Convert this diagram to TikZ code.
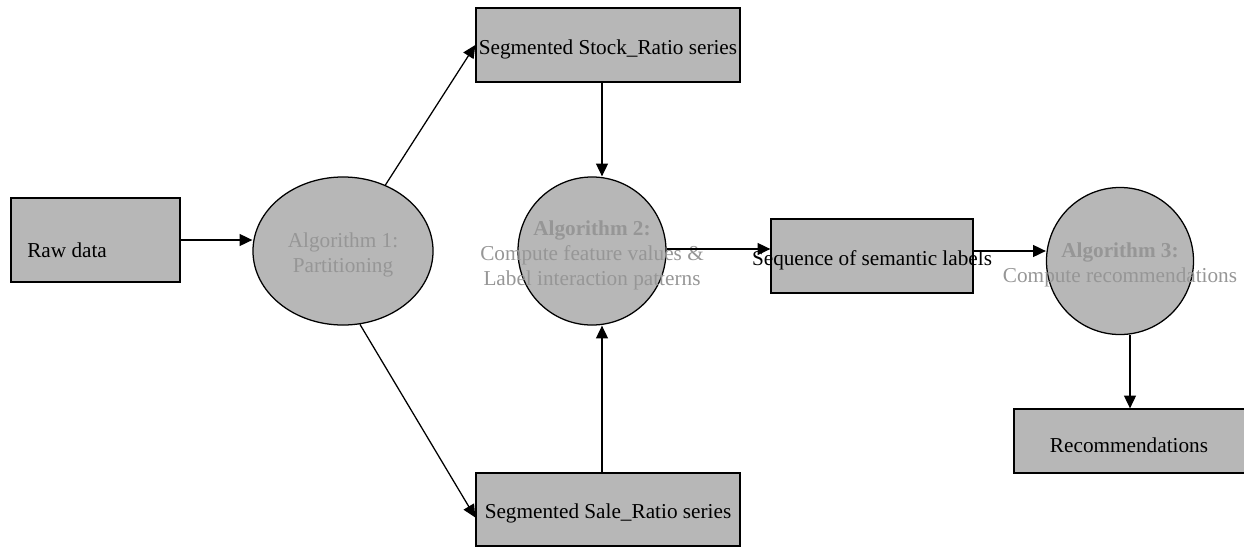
\documentclass[tikz,border=0pt]{standalone}
\usepackage{fontspec}
\setmainfont{Liberation Serif}
\usepackage{tikz}
\usetikzlibrary{arrows.meta,shapes.geometric}
\definecolor{boxgray}{RGB}{183,183,183}
\definecolor{algtext}{RGB}{150,150,150}
\tikzset{
	x=0.025cm,
	y=-0.025cm,
	every node/.style = {
		font=\fontsize{15.1}{17.8}\selectfont
	},
	databox/.style = {
		shape=rectangle,
		draw,
		fill=boxgray,
		line width=0.9pt,
		inner sep=0pt
	},
	algnode/.style = {
		shape=circle,
		draw,
		fill=boxgray,
		line width=0.9pt,
		inner sep=0pt
	},
	boxtext/.style = {
		yshift=-0.1cm,
		align=center
	},
	algname/.style = {
		boxtext,
		text=algtext
	},
	flow/.style = {
		draw,
		line width=0.9pt,
		-{Triangle[length=0.32cm,width=0.3cm]}
	}
}

\begin{document}
\begin{tikzpicture}
	\useasboundingbox[clip] (0,0) rectangle (1244,547);
	\node[databox, minimum width=4.225cm, minimum height=2.1cm,
		label={[boxtext, anchor=west, yshift=-0.15cm]west:{\hspace{0.3cm}Raw data}}] (raw) at (95.5,240) {};
	\node[algnode, shape=ellipse, minimum width=4.5cm, minimum height=3.7cm,
		label={[algname]center:{Algorithm 1:\\Partitioning}}] (part) at (343,251) {};
	\node[databox, minimum width=6.6cm, minimum height=1.85cm,
		label={[boxtext]center:{Segmented Stock\_Ratio series}}] (stock) at (608,45) {};
	\node[databox, minimum width=6.6cm, minimum height=1.825cm,
		label={[boxtext]center:{Segmented Sale\_Ratio series}}] (sale) at (608,509.5) {};
	\node[algnode, minimum size=3.7cm,
		label={[algname]center:{\textbf{Algorithm 2:}\\Compute feature values \&\\Label interaction patterns}}] (feat) at (592,251) {};
	\node[databox, minimum width=5.05cm, minimum height=1.85cm,
		label={[boxtext]center:{Sequence of semantic labels}}] (seq) at (872,256) {};
	\node[algnode, minimum size=3.675cm,
		label={[algname]center:{\textbf{Algorithm 3:}\\Compute recommendations}}] (recalg) at (1120,261) {};
	\node[databox, minimum width=5.85cm, minimum height=1.6cm,
		label={[boxtext, xshift=-0.05cm]center:{Recommendations}}] (rec) at (1131,441) {};

	\draw[flow] (raw.east) -- (raw.east -| part.west);
	\draw[flow] (part) -- (stock.west);
	\draw[flow] (part.-77) -- ([yshift=-0.2cm]sale.west);
	\draw[flow] ([xshift=-0.15cm]stock.south) -- ([xshift=-0.15cm]stock.south |- feat.north);
	\draw[flow] ([xshift=-0.15cm]sale.north) -- ([xshift=-0.15cm]sale.north |- feat.south);
	\draw[flow] ([yshift=0.05cm]feat.east) -- ([yshift=0.05cm]feat.east -| seq.west);
	\draw[flow] ([yshift=0.125cm]seq.east) -- ([yshift=0.125cm]seq.east -| recalg.west);
	\draw[flow] ([xshift=0.25cm]recalg.south) -- ([xshift=0.25cm]recalg.south |- rec.north);
\end{tikzpicture}
\end{document}
